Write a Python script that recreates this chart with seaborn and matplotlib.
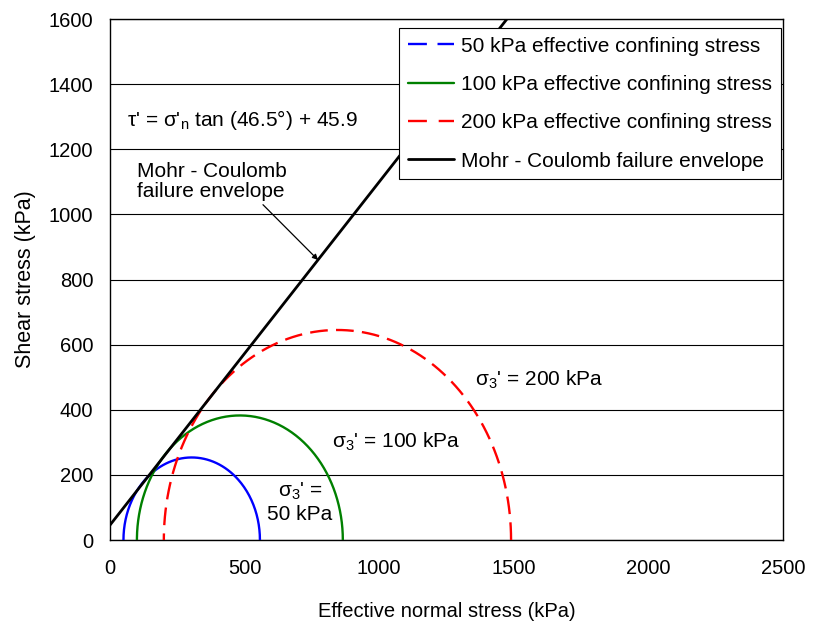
import numpy as np
import pandas as pd
import matplotlib
matplotlib.use("Agg")
import matplotlib.pyplot as plt
from matplotlib.lines import Line2D
import seaborn as sns

# Mohr circles (kPa)
sigma3 = [50, 100, 200]
sigma1 = [557, 865, 1490]
labels = ["50 kPa effective confining stress",
          "100 kPa effective confining stress",
          "200 kPa effective confining stress"]
colors = ["#0000FF", "#008000", "#FF0000"]

# failure envelope from the chart's equation
phi = 46.5
cohesion = 45.9

sns.set_style("white")
plt.rcParams['font.family'] = ['Liberation Sans', 'DejaVu Sans']
plt.rcParams['mathtext.fontset'] = 'custom'
plt.rcParams['mathtext.rm'] = 'Liberation Sans'
plt.rcParams['mathtext.it'] = 'Liberation Sans'
for k in ['text.color', 'axes.labelcolor', 'xtick.color', 'ytick.color']:
    plt.rcParams[k] = 'black'

fig = plt.figure(figsize=(8.13, 6.23), dpi=100)
ax = fig.add_axes([0.1353, 0.1332, 0.963 - 0.1353, 0.9695 - 0.1332])

theta = np.linspace(0, np.pi, 200)
for s3, s1, col in zip(sigma3, sigma1, colors):
    c = (s1 + s3) / 2
    r = (s1 - s3) / 2
    df = pd.DataFrame({"x": c + r * np.cos(theta), "y": r * np.sin(theta)})
    ls = (0, (7.5, 3.5)) if col == "#FF0000" else "-"
    sns.lineplot(data=df, x="x", y="y", sort=False, estimator=None, color=col,
                 linewidth=1.7, linestyle=ls, ax=ax, zorder=3)

slope = np.tan(np.radians(phi))
xs = np.array([0, (1600 - cohesion) / slope])
env = pd.DataFrame({"x": xs, "y": slope * xs + cohesion})
sns.lineplot(data=env, x="x", y="y", sort=False, estimator=None, color="black",
             linewidth=2, ax=ax, zorder=4)

ax.set_xlim(0, 2500)
ax.set_ylim(0, 1600)
ax.set_xticks(np.arange(0, 2501, 500))
ax.set_yticks(np.arange(0, 1601, 200))
ax.yaxis.grid(True, color="black", linewidth=0.8)
ax.xaxis.grid(False)
ax.set_axisbelow(True)
for sp in ax.spines.values():
    sp.set_color("black")
    sp.set_linewidth(1)
ax.tick_params(direction="in", length=5, width=0.8, labelsize=14.5, colors="black")
ax.tick_params(axis="y", pad=12)
ax.tick_params(axis="x", pad=14)
ax.set_xlabel("Effective normal stress (kPa)", fontsize=14.5, labelpad=17)
ax.set_ylabel("Shear stress (kPa)", fontsize=15.5, labelpad=9)

ax.text(63, 1290, r"τ' = σ'$_\mathregular{n}$ tan (46.5°) + 45.9", fontsize=15,
        va="center", ha="left")
ax.annotate("Mohr - Coulomb\nfailure envelope", xy=(773, 860), xytext=(100, 1100),
            fontsize=15, ha="left", va="center", linespacing=1.08,
            arrowprops=dict(arrowstyle="-|>", color="black", lw=0.9,
                            shrinkA=0, shrinkB=0, mutation_scale=8,
                            relpos=(0.82, 0.0)))
ax.text(1356, 491, r"σ$_\mathregular{3}$' = 200 kPa", fontsize=15, va="center", ha="left")
ax.text(825, 301, r"σ$_\mathregular{3}$' = 100 kPa", fontsize=15, va="center", ha="left")
ax.text(706, 116, "σ$_\\mathregular{3}$' =\n50 kPa", fontsize=15, va="center",
        ha="center", linespacing=1.2)

handles = [
    Line2D([], [], color=colors[0], linewidth=1.7, linestyle=(0, (8, 4.5))),
    Line2D([], [], color=colors[1], linewidth=1.7),
    Line2D([], [], color=colors[2], linewidth=1.7, linestyle=(0, (8, 5))),
    Line2D([], [], color="black", linewidth=2),
]
leg = ax.legend(handles, labels + ["Mohr - Coulomb failure envelope"],
                loc="upper right", bbox_to_anchor=(0.997, 0.983), fontsize=15,
                frameon=True, fancybox=False, framealpha=1, edgecolor="black",
                handlelength=2.2, handletextpad=0.35, labelspacing=0.93,
                borderpad=0.42, borderaxespad=0)
leg.get_frame().set_linewidth(0.8)
leg.set_zorder(10)

fig.savefig("out.png", dpi=100)
